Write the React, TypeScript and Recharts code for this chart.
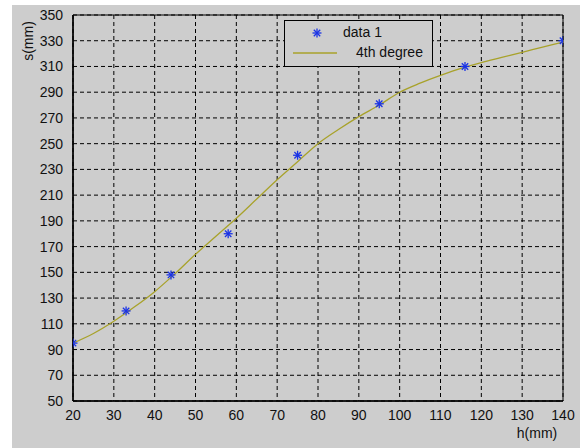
import {
  ComposedChart,
  Line,
  Scatter,
  XAxis,
  YAxis,
  CartesianGrid,
  ReferenceArea,
  Legend,
} from "recharts";

// measured points (h, s)
const hData = [20, 33, 44, 58, 75, 95, 116, 140];
const sData = [95, 120, 148, 180, 241, 281, 310, 330];

// 4th degree fit
const fitH = [20, 25, 30, 35, 40, 45, 50, 55, 60, 65, 70, 75, 80, 85, 90, 95, 100, 105, 110, 115, 120, 125, 130, 135, 140];
const fitS = [95, 102.5, 112, 123, 135, 149, 164, 178, 192, 207, 222, 236, 250, 261, 271, 280, 290, 297, 303, 308.5, 313, 317, 321, 325, 329];

const xTicks = [20, 30, 40, 50, 60, 70, 80, 90, 100, 110, 120, 130, 140];
const yTicks = [50, 70, 90, 110, 130, 150, 170, 190, 210, 230, 250, 270, 290, 310, 330, 350];

const points = hData.map((h, i) => ({ x: h, y: sData[i] }));
const fit = fitH.map((h, i) => ({ x: h, y: fitS[i] }));

const BG = "#cdcdcd";
const BLUE = "#1a33e6";
const OLIVE = "#a8a22a";
const FONT = "'Liberation Sans', Arial, sans-serif";

function Star({ cx, cy }: { cx?: number; cy?: number }) {
  if (cx == null || cy == null) return null;
  const r = 4.5;
  const d = 3.2;
  return (
    <g stroke={BLUE} strokeWidth={1.3}>
      <line x1={cx - r} y1={cy} x2={cx + r} y2={cy} />
      <line x1={cx} y1={cy - r} x2={cx} y2={cy + r} />
      <line x1={cx - d} y1={cy - d} x2={cx + d} y2={cy + d} />
      <line x1={cx - d} y1={cy + d} x2={cx + d} y2={cy - d} />
    </g>
  );
}

const renderLegend = () => (
  <div
    style={{
      position: "relative",
      width: 149,
      height: 47,
      boxSizing: "border-box",
      border: "1px solid #000",
      background: BG,
      fontFamily: FONT,
      fontSize: 14,
      color: "#111",
    }}
  >
    <svg width={149} height={47} style={{ position: "absolute", left: -1, top: -1 }}>
      <Star cx={33} cy={13} />
      <line x1={9} y1={33} x2={53} y2={33} stroke={OLIVE} strokeWidth={1.3} />
    </svg>
    <span style={{ position: "absolute", left: 58, top: 3 }}>data 1</span>
    <span style={{ position: "absolute", left: 71, top: 23 }}>4th degree</span>
  </div>
);

export default function App() {
  return (
    <div style={{ position: "absolute", left: 0, top: 0, width: 580, height: 448, background: "#fff" }}>
      <div style={{ position: "absolute", left: 12, top: 5, width: 568, height: 443, background: BG }}>
        <ComposedChart width={568} height={443} margin={{ top: 10, right: 17, left: 11, bottom: 17 }}>
          <CartesianGrid
            stroke="#000"
            strokeDasharray="4 3"
            strokeWidth={1}
            horizontalValues={yTicks}
            verticalValues={xTicks}
          />
          <XAxis
            type="number"
            dataKey="x"
            domain={[20, 140]}
            ticks={xTicks}
            interval={0}
            tickLine={false}
            axisLine={{ stroke: "#000", strokeWidth: 1.5 }}
            tick={{ fill: "#111", fontSize: 14, fontFamily: FONT }}
            tickMargin={3}
            height={30}
            allowDataOverflow
            label={{
              content: () => (
                <text x={525} y={433} textAnchor="middle" fill="#111" fontSize={14} fontFamily={FONT}>
                  h(mm)
                </text>
              ),
            }}
          />
          <YAxis
            type="number"
            dataKey="y"
            domain={[50, 350]}
            ticks={yTicks}
            interval={0}
            tickLine={false}
            axisLine={{ stroke: "#000", strokeWidth: 1.5 }}
            tick={{ fill: "#111", fontSize: 14, fontFamily: FONT }}
            tickMargin={4}
            width={50}
            allowDataOverflow
            label={{
              content: () => (
                <text
                  x={21}
                  y={36}
                  textAnchor="middle"
                  fill="#111"
                  fontSize={14}
                  fontFamily={FONT}
                  transform="rotate(-90 21 36)"
                >
                  s(mm)
                </text>
              ),
            }}
          />
          <ReferenceArea x1={20} x2={140} y1={50} y2={350} fill="none" stroke="#000" strokeWidth={1} />
          <Line
            data={fit}
            dataKey="y"
            type="monotone"
            stroke={OLIVE}
            strokeWidth={1.3}
            dot={false}
            isAnimationActive={false}
            legendType="none"
          />
          <Scatter data={points} dataKey="y" shape={<Star />} isAnimationActive={false} />
          <Legend
            layout="horizontal"
            verticalAlign="middle"
            align="center"
            content={renderLegend}
            wrapperStyle={{ position: "absolute", left: 272, top: 15, width: 149, height: 47 }}
          />
        </ComposedChart>
      </div>
    </div>
  );
}
